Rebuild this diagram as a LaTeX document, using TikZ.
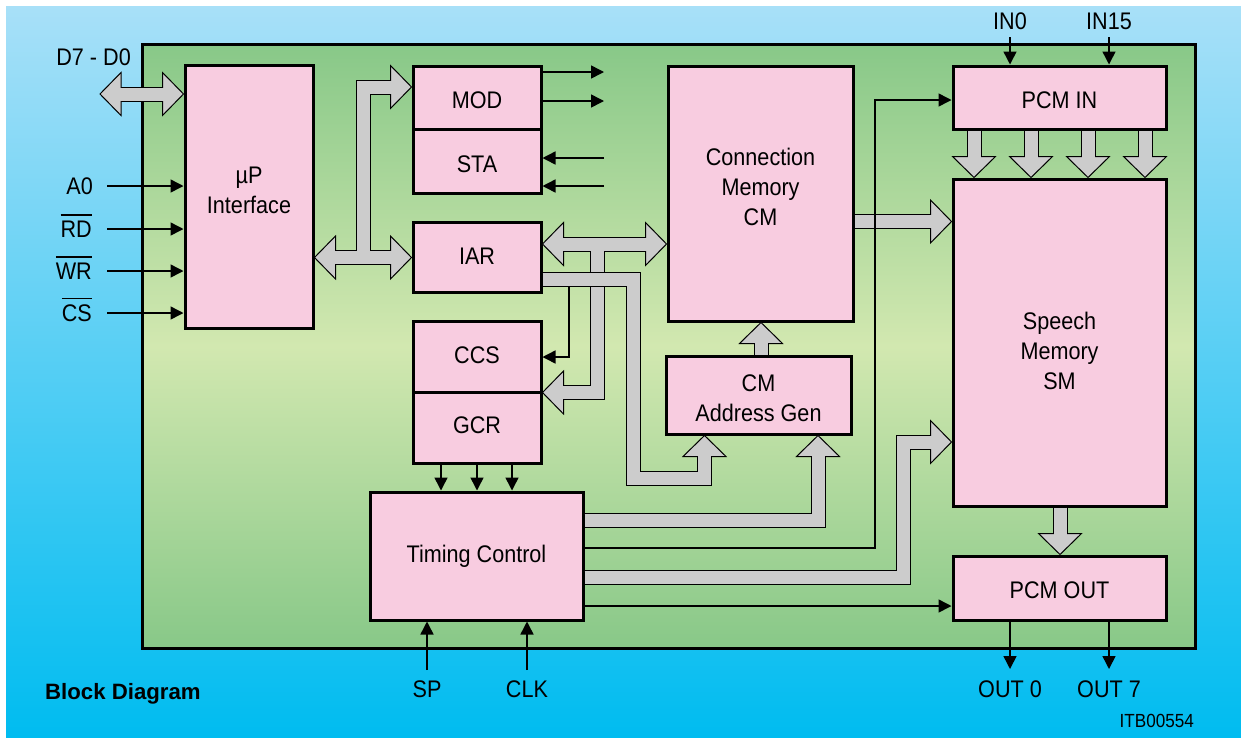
\documentclass[tikz,border=0pt]{standalone}
\usepackage{fontspec}
\setmainfont{Liberation Sans}[FakeStretch=0.9]
\newfontfamily\bdfont{Liberation Sans}
\usetikzlibrary{arrows.meta,calc}
\definecolor{pinkbox}{HTML}{F8CCE0}
\definecolor{busgray}{HTML}{CCCCCC}
\definecolor{greentop}{HTML}{88C888}
\definecolor{greenmid}{HTML}{D2E8B0}
\definecolor{bluetop}{HTML}{A8E0F8}
\definecolor{bluebot}{HTML}{00BCF0}
\newcommand\ovl[1]{\vbox{\hrule height 1.5pt\kern 5.5pt\hbox{#1}}}
\newcommand\headR[1]{\draw[fathead] #1 -- ++(-21,-21.5) -- ++(0,43) -- cycle;}
\newcommand\headL[1]{\draw[fathead] #1 -- ++(21,-21.5) -- ++(0,43) -- cycle;}
\newcommand\headU[1]{\draw[fathead] #1 -- ++(-21.5,21) -- ++(43,0) -- cycle;}
\newcommand\headD[1]{\draw[fathead] #1 -- ++(-21.5,-21) -- ++(43,0) -- cycle;}
\newcommand\boxtxt[3]{\node[lab, align=center] (#1txt) at ($(#1)+(0,#2)$) {#3};}
\begin{document}
\begin{tikzpicture}[x=1pt,y=-1pt,
  box/.style={draw=black, line width=3pt, fill=pinkbox, inner sep=0pt},
  lab/.style={inner sep=0pt, font=\fontsize{24}{30}\selectfont},
  sig/.style={line width=1.5pt, -{Triangle[length=13pt,width=13pt]}},
  busout/.style={line width=15pt, draw=black, line join=miter},
  busin/.style={line width=13pt, draw=busgray, line join=miter},
  fathead/.style={fill=busgray, draw=black, line width=1pt, line join=miter}]
\useasboundingbox (0,0) rectangle (1241,740);
\fill[white] (0,0) rectangle (1241,740);
\shade[top color=bluetop, bottom color=bluebot] (6,6) rectangle (1241,737);
\shade[top color=greentop, bottom color=greentop, middle color=greenmid] (142,44) rectangle (1195,648);
\draw[line width=3pt] (142,44) rectangle (1195,648);

% boxes
\node[box, minimum width=128pt, minimum height=263pt] (upi) at (249,196.5) {};
\node[box, minimum width=128pt, minimum height=63pt] (mod) at (477,97.5) {};
\node[box, minimum width=128pt, minimum height=64pt] (sta) at (477,161) {};
\node[box, minimum width=128pt, minimum height=70pt] (iar) at (477,257) {};
\node[box, minimum width=128pt, minimum height=71pt] (ccs) at (477,356.5) {};
\node[box, minimum width=128pt, minimum height=71pt] (gcr) at (477,427.5) {};
\node[box, minimum width=185pt, minimum height=255pt] (cm) at (760.5,193.5) {};
\node[box, minimum width=185pt, minimum height=78pt] (cmag) at (758.5,395) {};
\node[box, minimum width=213pt, minimum height=128pt] (tim) at (476.5,556) {};
\node[box, minimum width=213pt, minimum height=63pt] (pcmin) at (1059.5,97.5) {};
\node[box, minimum width=213pt, minimum height=327pt] (sm) at (1059.5,342.5) {};
\node[box, minimum width=213pt, minimum height=64pt] (pcmout) at (1059.5,588) {};

% box texts
\boxtxt{upi}{-6.5}{µP\\Interface}
\boxtxt{mod}{2.5}{MOD}
\boxtxt{sta}{3}{STA}
\boxtxt{iar}{-0.5}{IAR}
\boxtxt{ccs}{-1}{CCS}
\boxtxt{gcr}{-2}{GCR}
\boxtxt{cm}{-6.5}{Connection\\Memory\\CM}
\boxtxt{cmag}{3.5}{CM\\Address Gen}
\boxtxt{tim}{0}{Timing Control}
\boxtxt{pcmin}{2.5}{PCM IN}
\boxtxt{sm}{8}{Speech\\Memory\\SM}
\boxtxt{pcmout}{2}{PCM OUT}

% labels
\node[lab, anchor=base east] (d7lab) at (131,65.6) {D7 - D0};
\node[lab, anchor=base east] (a0lab) at (93,194.6) {A0};
\node[lab, anchor=base east] (rdlab) at (92,237.6) {\ovl{RD}};
\node[lab, anchor=base east] (wrlab) at (92,279.6) {\ovl{WR}};
\node[lab, anchor=base east] (cslab) at (92,321.6) {\ovl{CS}};
\node[lab, anchor=base] (in0lab) at (1010,29.6) {IN0};
\node[lab, anchor=base] (in15lab) at (1109,29.6) {IN15};
\node[lab, anchor=base] (splab) at (427,697.6) {SP};
\node[lab, anchor=base] (clklab) at (527,697.6) {CLK};
\node[lab, anchor=base] (out0lab) at (1010,697) {OUT 0};
\node[lab, anchor=base] (out7lab) at (1109,697) {OUT 7};
\node[anchor=base west, inner sep=0pt, font=\bdfont\bfseries\fontsize{22.2}{26}\selectfont] (title) at (45,699) {Block Diagram};
\node[anchor=base east, inner sep=0pt, font=\fontsize{19}{22}\selectfont] (itb) at (1194,727) {ITB00554};

% free ends
\coordinate (d7end) at (100,94);

% B1: D7-D0 bus
\draw[busout] (121,94) -- (162.5,94);
\headL{(d7end)}
\headR{(upi.west |- 0,94)}
\draw[busin, shorten <=-2pt, shorten >=-2pt] (121,94) -- (162.5,94);

% B2: uP bus to IAR and MOD
\draw[busout] (335.5,257.5) -- (390.5,257.5);
\draw[busout] (363,257.5) -- (363,87) -- (390.5,87);
\headL{(upi.east |- 0,257.5)}
\headR{(iar.west |- 0,257.5)}
\headR{(mod.west |- 0,87)}
\draw[busin, shorten <=-2pt, shorten >=-2pt] (335.5,257.5) -- (390.5,257.5);
\draw[busin, shorten >=-2pt] (363,257.5) -- (363,87) -- (390.5,87);

% B3: IAR <-> CM, branch to CCS/GCR
\draw[busout] (563.5,244) -- (645.5,244);
\draw[busout] (597.5,244) -- (597.5,392.5) -- (563.5,392.5);
\headL{(iar.east |- 0,244)}
\headR{(cm.west |- 0,244)}
\headL{(gcr.east |- 0,392.5)}
\draw[busin, shorten <=-2pt, shorten >=-2pt] (563.5,244) -- (645.5,244);
\draw[busin, shorten >=-2pt] (597.5,244) -- (597.5,392.5) -- (563.5,392.5);

% B4: IAR -> CM Address Gen
\draw[busout] (iar.east |- 0,279) -- (633,279) -- (633,478) -- (704.5,478) -- (704.5,456.5);
\headU{(cmag.south -| 704.5,0)}
\draw[busin, shorten >=-2pt] (iar.east |- 0,279) -- (633,279) -- (633,478) -- (704.5,478) -- (704.5,456.5);

% B5: CM Address Gen -> CM
\draw[busout] (cmag.north -| 761,0) -- (761,343.5);
\headU{(cm.south -| 761,0)}
\draw[busin, shorten >=-2pt] (cmag.north -| 761,0) -- (761,343.5);

% B6: Timing -> CM Address Gen
\draw[busout] (tim.east |- 0,520.5) -- (818,520.5) -- (818,456.5);
\headU{(cmag.south -| 818,0)}
\draw[busin, shorten >=-2pt] (tim.east |- 0,520.5) -- (818,520.5) -- (818,456.5);

% B7: Timing -> Speech Memory
\draw[busout] (tim.east |- 0,577.5) -- (903,577.5) -- (903,442) -- (930.5,442);
\headR{(sm.west |- 0,442)}
\draw[busin, shorten >=-2pt] (tim.east |- 0,577.5) -- (903,577.5) -- (903,442) -- (930.5,442);

% B8: CM -> Speech Memory
\draw[busout] (cm.east |- 0,221.5) -- (930.5,221.5);
\headR{(sm.west |- 0,221.5)}
\draw[busin, shorten >=-2pt] (cm.east |- 0,221.5) -- (930.5,221.5);

% B9: PCM IN -> Speech Memory
\foreach \xx in {974,1031,1088,1145}{
  \draw[busout] (pcmin.south -| \xx,0) -- (\xx,156.5);
  \headD{(sm.north -| \xx,0)}
  \draw[busin, shorten >=-2pt] (pcmin.south -| \xx,0) -- (\xx,156.5);
}

% B10: Speech Memory -> PCM OUT
\draw[busout] (sm.south -| 1060,0) -- (1060,533.5);
\headD{(pcmout.north -| 1060,0)}
\draw[busin, shorten >=-2pt] (sm.south -| 1060,0) -- (1060,533.5);

% thin signals
\foreach \yy in {186,229,271,313}{
  \draw[sig] (107,\yy) -- (upi.west |- 0,\yy);
}
\draw[sig] (mod.east |- 0,72) -- (604,72);
\draw[sig] (mod.east |- 0,101) -- (604,101);
\draw[sig] (604,158) -- (sta.east |- 0,158);
\draw[sig] (604,186) -- (sta.east |- 0,186);
\draw[sig] (569,286.5) -- (569,357) -- (ccs.east |- 0,357);
\foreach \xx in {441,477,512}{
  \draw[sig] (gcr.south -| \xx,0) -- (tim.north -| \xx,0);
}
\draw[sig] (tim.east |- 0,548) -- (875,548) -- (875,100) -- (pcmin.west |- 0,100);
\draw[sig] (tim.east |- 0,606) -- (pcmout.west |- 0,606);
\draw[sig] (427,670) -- (tim.south -| 427,0);
\draw[sig] (527,670) -- (tim.south -| 527,0);
\draw[sig] (1010,37) -- (pcmin.north -| 1010,0);
\draw[sig] (1109,37) -- (pcmin.north -| 1109,0);
\draw[sig] (pcmout.south -| 1010,0) -- (1010,669);
\draw[sig] (pcmout.south -| 1109,0) -- (1109,669);
\end{tikzpicture}
\end{document}
